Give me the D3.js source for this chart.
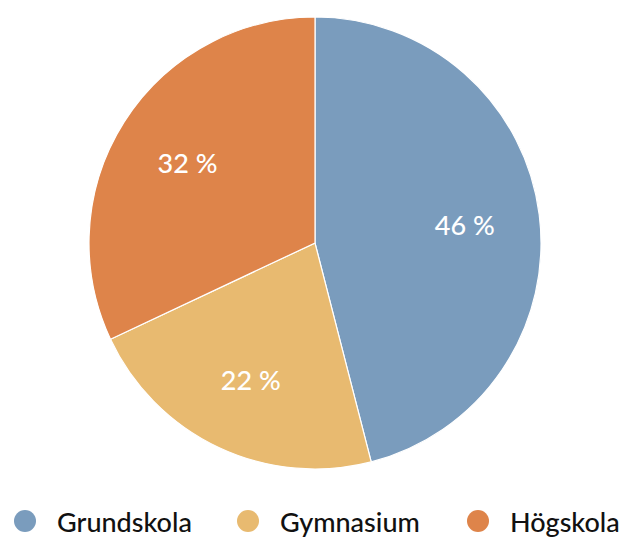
<!DOCTYPE html>
<html><head><meta charset="utf-8">
<script src="https://cdn.jsdelivr.net/npm/d3@7"></script>
<style>body{margin:0;background:#fff;}svg{display:block;}</style>
</head><body>
<svg id="chart" width="620" height="537"></svg>
<script>
const categories = ["Grundskola", "Gymnasium", "Högskola"];
const values = [46, 22, 32];
const colors = ["#7A9CBD", "#E8BA70", "#DE844A"];

const svg = d3.select("#chart");
const cx = 315, cy = 243, r = 226;
const g = svg.append("g").attr("transform", `translate(${cx},${cy})`);
const pie = d3.pie().sort(null).value(d => d.v);
const data = pie(categories.map((c, i) => ({c, v: values[i], col: colors[i]})));
const arc = d3.arc().innerRadius(0).outerRadius(r);
const labelArc = d3.arc().innerRadius(151).outerRadius(151);

g.selectAll("path").data(data).join("path")
  .attr("d", arc).attr("fill", d => d.data.col)
  .attr("stroke", "#fff").attr("stroke-width", 1.2);

g.selectAll("text").data(data).join("text")
  .attr("transform", d => `translate(${labelArc.centroid(d)})`)
  .attr("text-anchor", "middle").attr("dominant-baseline", "central")
  .attr("fill", "#fff").attr("font-family", "Lato, sans-serif")
  .attr("font-size", 27).attr("font-weight", 500)
  .text(d => d.data.v + " %");

const legX = [25, 248, 478];
const leg = svg.append("g").selectAll("g").data(categories).join("g")
  .attr("transform", (d, i) => `translate(${legX[i]},521)`);
leg.append("circle").attr("r", 11).attr("fill", (d, i) => colors[i]);
leg.append("text").attr("x", 32).attr("dominant-baseline", "central")
  .attr("font-family", "Lato, sans-serif").attr("font-size", 27).attr("font-weight", 500).attr("fill", "#111")
  .text(d => d);
</script>
</body></html>
